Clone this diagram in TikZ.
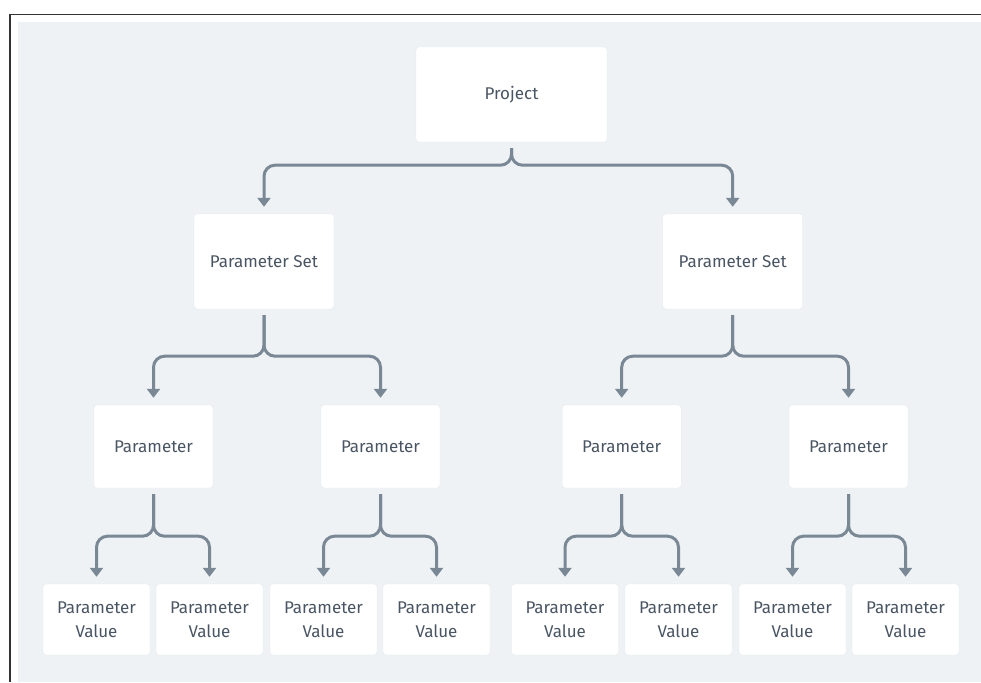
\documentclass[tikz,border=0pt]{standalone}
\usepackage{fontspec}
\setmainfont{Fira Sans}
\usetikzlibrary{arrows.meta}

\definecolor{canvas}{HTML}{EEF2F5}
\definecolor{inkgray}{HTML}{4A5563}
\definecolor{linkgray}{HTML}{7A8896}
\definecolor{shade}{HTML}{E4E9EE}

\tikzset{
  card/.style={fill=white, rounded corners=3pt, inner sep=0pt,
    text=inkgray, font=\fontsize{17}{24}\selectfont, align=center,
    draw=shade, line width=0.4pt},
  topcard/.style={card, minimum width=191pt, minimum height=95pt},
  setcard/.style={card, minimum width=140pt, minimum height=95pt},
  parcard/.style={card, minimum width=119pt, minimum height=83pt},
  valcard/.style={card, minimum width=107pt, minimum height=71pt},
  link/.style={draw=linkgray, line width=3pt, rounded corners=11pt,
    -{Triangle[length=9pt, width=13pt]}},
}

% parent, child, drop from the parent's exit point to the branch line
\newcommand\branchto[3]{%
  \draw[link] ([yshift=-6pt]#1.south) -- ++(0,#3) -| ([yshift=7pt]#2.north);}

\begin{document}
\begin{tikzpicture}[x=1pt, y=-1pt]
  \useasboundingbox (0,0) rectangle (981,682);
  % frame and canvas
  \fill[canvas] (18,22) rectangle (981,682);
  \draw[black!80, line width=1.6pt] (10,682) -- (10,14.5) -- (981,14.5);

  % tree
  \node[topcard] (proj) at (511.5,94.5) {Project};

  \node[setcard] (setA) at (264,261.5) {Parameter Set};
  \node[setcard] (setB) at (732.7,261.5) {Parameter Set};

  \node[parcard] (parA) at (153.5,446.5) {Parameter};
  \node[parcard] (parB) at (380.5,446.5) {Parameter};
  \node[parcard] (parC) at (621.7,446.5) {Parameter};
  \node[parcard] (parD) at (848.5,446.5) {Parameter};

  \node[valcard] (valA) at (96.5,619.5)  {Parameter\\Value};
  \node[valcard] (valB) at (209.5,619.5) {Parameter\\Value};
  \node[valcard] (valC) at (323.5,619.5) {Parameter\\Value};
  \node[valcard] (valD) at (436.5,619.5) {Parameter\\Value};
  \node[valcard] (valE) at (565,619.5)   {Parameter\\Value};
  \node[valcard] (valF) at (678.5,619.5) {Parameter\\Value};
  \node[valcard] (valG) at (792.5,619.5) {Parameter\\Value};
  \node[valcard] (valH) at (905.5,619.5) {Parameter\\Value};

  % connectors
  \branchto{proj}{setA}{17}
  \branchto{proj}{setB}{17}
  \branchto{setA}{parA}{41}
  \branchto{setA}{parB}{41}
  \branchto{setB}{parC}{41}
  \branchto{setB}{parD}{41}
  \branchto{parA}{valA}{42}
  \branchto{parA}{valB}{42}
  \branchto{parB}{valC}{42}
  \branchto{parB}{valD}{42}
  \branchto{parC}{valE}{42}
  \branchto{parC}{valF}{42}
  \branchto{parD}{valG}{42}
  \branchto{parD}{valH}{42}
\end{tikzpicture}
\end{document}
